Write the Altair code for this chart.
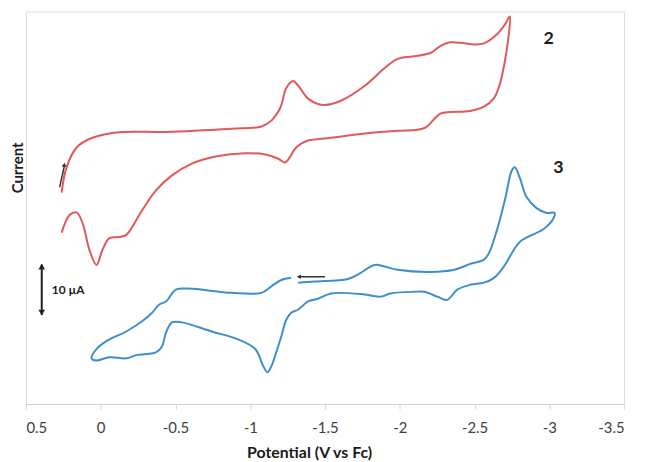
import altair as alt
import pandas as pd

# Compound 2 (red) cyclic voltammogram: potential (V vs Fc), current (uA, offset)
red_v = [0.261, 0.228, 0.161, 0.055, -0.105, -0.437, -0.875, -1.075, -1.141, -1.201,
         -1.241, -1.287, -1.321, -1.387, -1.453, -1.5, -1.606, -1.766, -1.899, -1.985,
         -2.098, -2.204, -2.271, -2.337, -2.43, -2.497, -2.563, -2.65, -2.703, -2.736,
         -2.729, -2.703, -2.669, -2.63, -2.563, -2.47, -2.337, -2.271, -2.231, -2.171,
         -2.118, -1.985, -1.766, -1.54, -1.387, -1.341, -1.301, -1.267, -1.234, -1.188,
         -1.101, -0.968, -0.769, -0.61, -0.477, -0.37, -0.277, -0.171, -0.125, -0.058,
         -0.012, 0.028, 0.075, 0.121, 0.161, 0.208, 0.261]
red_i = [39.4, 44.1, 47.8, 49.6, 50.6, 50.7, 51.3, 51.7, 52.8, 55.2,
         58.9, 60.2, 59.3, 56.9, 55.9, 55.7, 56.5, 59.3, 62.6, 64.3,
         64.8, 65.4, 66.7, 67.4, 67.2, 67.0, 67.2, 68.9, 70.7, 72.2,
         68.9, 63.9, 59.6, 57.0, 55.4, 54.6, 54.4, 54.1, 53.1, 51.5,
         51.1, 50.9, 50.4, 49.6, 49.1, 48.5, 47.6, 46.1, 45.0, 45.7,
         46.5, 46.7, 46.1, 44.8, 42.6, 39.8, 36.1, 31.5, 31.1, 30.9,
         28.7, 25.9, 28.7, 33.7, 35.7, 35.2, 31.9]

# Compound 3 (blue)
blue_v = [-1.321, -1.434, -1.653, -1.719, -1.832, -1.899, -1.985, -2.204, -2.364, -2.47,
          -2.563, -2.596, -2.65, -2.703, -2.749, -2.769, -2.802, -2.849, -2.915, -2.982,
          -3.035, -3.028, -2.962, -2.869, -2.802, -2.762, -2.696, -2.63, -2.563, -2.47,
          -2.384, -2.317, -2.251, -2.164, -2.098, -1.939, -1.872, -1.766, -1.54, -1.453,
          -1.387, -1.321, -1.274, -1.241, -1.208, -1.174, -1.141, -1.115, -1.088, -1.035,
          -0.922, -0.743, -0.543, -0.477, -0.437, -0.41, -0.37, -0.304, -0.238, -0.171,
          -0.058, 0.028, 0.061, 0.028, -0.038, -0.171, -0.277, -0.344, -0.39, -0.437,
          -0.503, -0.59, -0.875, -1.075, -1.141, -1.208, -1.274]
blue_i = [22.6, 22.8, 23.3, 24.1, 25.9, 25.6, 25.0, 24.6, 25.0, 26.1,
          26.9, 28.1, 32.4, 38.0, 43.5, 44.1, 42.2, 38.5, 36.5, 35.6,
          35.6, 34.6, 32.6, 31.3, 30.2, 28.7, 25.6, 23.5, 22.6, 22.2,
          21.3, 19.4, 20.0, 20.9, 20.9, 20.6, 20.0, 20.4, 20.6, 19.6,
          19.1, 17.6, 17.0, 15.7, 12.6, 9.6, 7.0, 5.9, 7.0, 10.2,
          12.0, 13.5, 15.2, 15.2, 13.3, 10.7, 9.6, 9.3, 9.1, 8.5,
          8.7, 8.1, 8.5, 10.2, 11.7, 13.5, 15.4, 17.0, 18.5, 19.1,
          21.3, 21.5, 20.7, 20.7, 21.9, 23.1, 23.5]

x_ticks = [0.5, 0, -0.5, -1, -1.5, -2, -2.5, -3, -3.5]
labels_txt = ["2", "3"]
labels_v = [-2.995, -3.061]
labels_i = [68.0, 43.9]

RED = "#e0595b"
BLUE = "#3f8fcb"
FONT = "Lato"

red_df = pd.DataFrame({"v": red_v, "i": red_i, "idx": range(len(red_v))})
blue_df = pd.DataFrame({"v": blue_v, "i": blue_i, "idx": range(len(blue_v))})

xscale = alt.Scale(domain=[0.5, -3.5], nice=False, zero=False)
yscale = alt.Scale(domain=[0, 73.15], nice=False, zero=False)

xenc = alt.X("v:Q", scale=xscale,
             axis=alt.Axis(values=x_ticks, title="Potential (V vs Fc)", grid=False,
                           labelExpr="datum.value == 0 ? '0' : (datum.value < 0 ? '-' : '') + toString(abs(datum.value))",
                           domainColor="#d4d4d4", tickColor="#d4d4d4", tickSize=5,
                           labelFont=FONT, labelFontSize=15, labelColor="#404040",
                           labelPadding=12, titleFont=FONT, titleFontSize=16,
                           titleFontWeight="bold", titleColor="#1a1a1a",
                           titleX=285, titleY=54, titleBaseline="alphabetic"))
yenc = alt.Y("i:Q", scale=yscale,
             axis=alt.Axis(title="Current", grid=False, domain=False, ticks=False,
                           labels=False, titleFont=FONT, titleFontSize=15,
                           titleFontWeight="bold", titleColor="#1a1a1a",
                           titleX=0, titleY=157))

red_line = alt.Chart(red_df).mark_line(color=RED, strokeWidth=2, interpolate="catmull-rom").encode(
    x=xenc, y=yenc, order="idx:Q")
blue_line = alt.Chart(blue_df).mark_line(color=BLUE, strokeWidth=2, interpolate="catmull-rom").encode(
    x="v:Q", y="i:Q", order="idx:Q")

# scale bar (10 uA)
bar_df = pd.DataFrame({"v": [0.394], "i1": [16.6], "i2": [26.0]})
bar_rule = alt.Chart(bar_df).mark_rule(color="#222222", strokeWidth=2).encode(
    x="v:Q", y="i1:Q", y2="i2:Q")
heads_df = pd.DataFrame({"v": [0.394, 0.394], "i": [25.6, 17.0],
                         "shape": ["triangle-up", "triangle-down"]})
bar_heads = alt.Chart(heads_df).mark_point(filled=True, color="#222222", size=45, opacity=1).encode(
    x="v:Q", y="i:Q", shape=alt.Shape("shape:N", scale=None))
bar_text = alt.Chart(pd.DataFrame({"v": [0.327], "i": [21.3], "t": ["10 µA"]})).mark_text(
    align="left", baseline="middle", font=FONT, fontSize=12, fontWeight="bold", color="#1a1a1a").encode(
    x="v:Q", y="i:Q", text="t:N")

# scan direction arrows
arr_df = pd.DataFrame({"v": [0.274, -1.5], "i": [40.4, 23.7], "v2": [0.241, -1.33], "i2": [44.6, 23.7]})
arr_rules = alt.Chart(arr_df).mark_rule(color="#333333", strokeWidth=1.5).encode(
    x="v:Q", y="i:Q", x2="v2:Q", y2="i2:Q")
arr_head_red = alt.Chart(pd.DataFrame({"v": [0.243], "i": [44.6]})).mark_point(
    shape="triangle-up", filled=True, color="#333333", size=22, angle=11, opacity=1).encode(x="v:Q", y="i:Q")
arr_head_blue = alt.Chart(pd.DataFrame({"v": [-1.325], "i": [23.7]})).mark_point(
    shape="triangle-left", filled=True, color="#333333", size=22, opacity=1).encode(x="v:Q", y="i:Q")

lbl = alt.Chart(pd.DataFrame({"v": labels_v, "i": labels_i, "t": labels_txt})).mark_text(
    align="center", baseline="middle", font=FONT, fontSize=18, fontWeight="bold", color="#1a1a1a").encode(
    x="v:Q", y="i:Q", text="t:N")

chart = alt.layer(red_line, blue_line, bar_rule, bar_heads, bar_text, arr_rules,
                  arr_head_red, arr_head_blue, lbl).properties(
    width=602, height=395,
    autosize=alt.AutoSizeParams(type="none"),
    padding={"left": 18, "top": 2, "right": 15, "bottom": 60},
).configure_view(stroke=None).configure(background="white")

chart.save("out.html", embed_options={"renderer": "svg", "actions": False})
